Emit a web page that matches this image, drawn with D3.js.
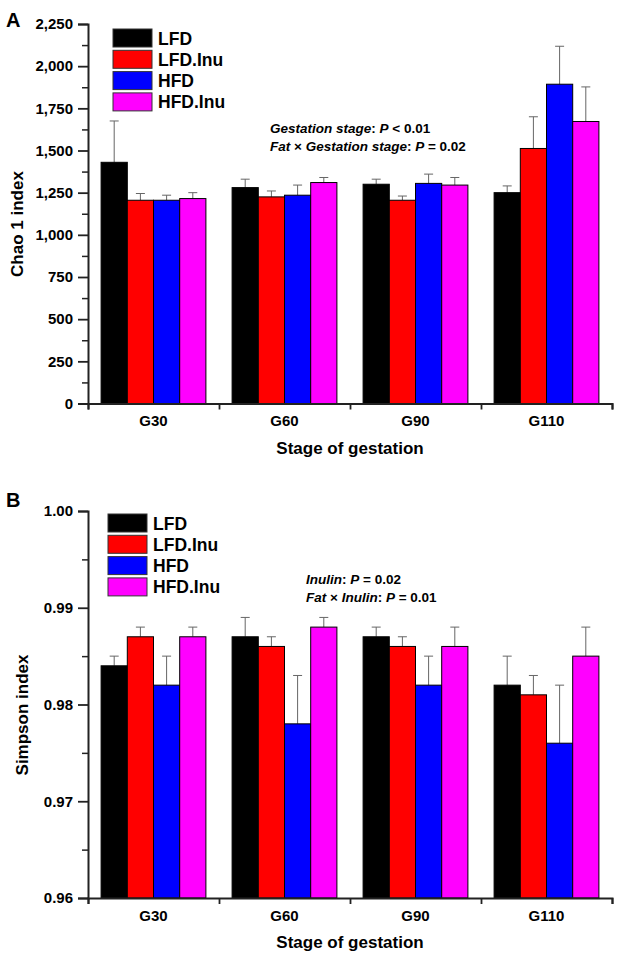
<!DOCTYPE html>
<html><head><meta charset="utf-8">
<script src="https://cdn.jsdelivr.net/npm/d3@7"></script>
<style>
body{margin:0;background:#fff;}
text{font-family:"Liberation Sans",Arial,sans-serif;font-weight:bold;fill:#000;}
</style></head>
<body>
<svg id="c" width="630" height="960"></svg>
<script>
const stages = ["G30","G60","G90","G110"];
const groups = ["LFD","LFD.Inu","HFD","HFD.Inu"];
const colors = ["#000000","#ff0000","#0000ff","#ff00ff"];

// Panel A: Chao 1 index (mean, upper error bar end)
const chaoMean = {
  "LFD":     [1430,1280,1300,1250],
  "LFD.Inu": [1205,1225,1205,1512],
  "HFD":     [1205,1235,1305,1893],
  "HFD.Inu": [1215,1310,1295,1672]
};
const chaoErr = {
  "LFD":     [1675,1330,1330,1290],
  "LFD.Inu": [1245,1260,1230,1700],
  "HFD":     [1235,1295,1360,2118],
  "HFD.Inu": [1250,1340,1340,1877]
};
const chaoTicks = [0,250,500,750,1000,1250,1500,1750,2000,2250];

// Panel B: Simpson index
const simpMean = {
  "LFD":     [0.984,0.987,0.987,0.982],
  "LFD.Inu": [0.987,0.986,0.986,0.981],
  "HFD":     [0.982,0.978,0.982,0.976],
  "HFD.Inu": [0.987,0.988,0.986,0.985]
};
const simpErr = {
  "LFD":     [0.985,0.989,0.988,0.985],
  "LFD.Inu": [0.988,0.987,0.987,0.983],
  "HFD":     [0.985,0.983,0.985,0.982],
  "HFD.Inu": [0.988,0.989,0.988,0.988]
};
const simpTicks = [0.96,0.97,0.98,0.99,1.00];

const svg = d3.select("#c");

function panel(o){
  const g = svg.append("g");
  const x = d3.scaleBand().domain(stages).range([88,612]).paddingInner(0.2).paddingOuter(0.1);
  const xs = d3.scaleBand().domain(groups).range([0,x.bandwidth()]);
  const y = d3.scaleLinear().domain(o.domain).range([o.y0,o.y1]);

  groups.forEach((grp,gi)=>{
    stages.forEach((st,si)=>{
      const bx = x(st)+xs(grp);
      const cx = bx + xs.bandwidth()/2;
      g.append("line").attr("x1",cx).attr("x2",cx)
        .attr("y1",y(o.mean[grp][si])).attr("y2",y(o.err[grp][si]))
        .attr("stroke","#666").attr("stroke-width",1);
      g.append("line").attr("x1",cx-4.5).attr("x2",cx+4.5)
        .attr("y1",y(o.err[grp][si])).attr("y2",y(o.err[grp][si]))
        .attr("stroke","#666").attr("stroke-width",1);
      g.append("rect").attr("x",bx).attr("width",xs.bandwidth())
        .attr("y",y(o.mean[grp][si])).attr("height",y(o.domain[0])-y(o.mean[grp][si]))
        .attr("fill",colors[gi]).attr("stroke","#000").attr("stroke-width",1);
    });
  });

  const step = o.ticks[1]-o.ticks[0];
  const minors = o.ticks.slice(0,-1).map(t=>t+step/2);
  const yMinor = d3.axisLeft(y).tickValues(minors).tickSize(6).tickFormat("");
  const gm = g.append("g").attr("transform","translate(88,0)").call(yMinor);
  gm.select(".domain").remove();
  gm.selectAll("line").attr("stroke","#222").attr("stroke-width",1.5);

  const yAx = d3.axisLeft(y).tickValues(o.ticks).tickSize(10).tickPadding(5).tickFormat(o.fmt);
  const ga = g.append("g").attr("transform","translate(88,0)").call(yAx);
  ga.select(".domain").attr("stroke","#222").attr("stroke-width",2);
  ga.selectAll("line").attr("stroke","#222").attr("stroke-width",1.8);
  ga.selectAll("text").style("font-size","15px").style("font-family","'Liberation Sans',Arial,sans-serif").style("font-weight","bold").attr("fill","#000");

  const xb = d3.scaleLinear().domain([0,stages.length]).range([88,612]);
  const xAxB = d3.axisBottom(xb).tickValues(d3.range(stages.length+1)).tickSize(6).tickFormat("");
  const gx = g.append("g").attr("transform",`translate(0,${o.y0})`).call(xAxB);
  gx.select(".domain").attr("stroke","#222").attr("stroke-width",2);
  gx.selectAll("line").attr("stroke","#222").attr("stroke-width",1.8);
  const xAx = d3.axisBottom(x).tickSize(0).tickPadding(12);
  const gl = g.append("g").attr("transform",`translate(0,${o.y0})`).call(xAx);
  gl.select(".domain").remove();
  gl.selectAll("text").style("font-size","15px").style("font-family","'Liberation Sans',Arial,sans-serif").style("font-weight","bold").attr("fill","#000");

  g.append("text").attr("x",350).attr("y",o.y0+50).attr("text-anchor","middle")
    .style("font-size","17px").text("Stage of gestation");
  g.append("text").attr("transform",`translate(${o.ylabX},${o.ylabY}) rotate(-90)`).attr("text-anchor","middle")
    .style("font-size","17px").text(o.ylab);
  g.append("text").attr("x",6).attr("y",o.letterY).style("font-size","20px").text(o.letter);

  groups.forEach((grp,gi)=>{
    const ly = o.legY + gi*21.3;
    g.append("rect").attr("x",o.legX).attr("y",ly).attr("width",39).attr("height",18)
      .attr("fill",colors[gi]).attr("stroke","#333").attr("stroke-width",1);
    g.append("text").attr("x",o.legX+45).attr("y",ly+15.5).style("font-size","17.5px").text(grp);
  });

  o.notes.forEach((parts,li)=>{
    const t = g.append("text").attr("x",o.noteX).attr("y",o.noteY+li*18).style("font-size","13.5px");
    parts.forEach(p=>{
      t.append("tspan").style("font-style",p[1]?"italic":"normal").text(p[0]);
    });
  });
}

panel({
  domain:[0,2250], y0:403.5, y1:24, ticks:chaoTicks, fmt:d3.format(","),
  mean:chaoMean, err:chaoErr, ylab:"Chao 1 index", ylabX:23, ylabY:224, letter:"A", letterY:27,
  legX:113, legY:29,
  noteX:270, noteY:133,
  notes:[
    [["Gestation stage",1],[": ",0],["P",1],[" < 0.01",0]],
    [["Fat ",1],["\u00d7",0],[" Gestation stage",1],[": ",0],["P",1],[" = 0.02",0]]
  ]
});

panel({
  domain:[0.96,1.00], y0:898, y1:511, ticks:simpTicks, fmt:d3.format(".2f"),
  mean:simpMean, err:simpErr, ylab:"Simpson index", ylabX:28, ylabY:715, letter:"B", letterY:507,
  legX:108, legY:514,
  noteX:306, noteY:584,
  notes:[
    [["Inulin",1],[": ",0],["P",1],[" = 0.02",0]],
    [["Fat ",1],["\u00d7",0],[" Inulin",1],[": ",0],["P",1],[" = 0.01",0]]
  ]
});
</script>
</body></html>
